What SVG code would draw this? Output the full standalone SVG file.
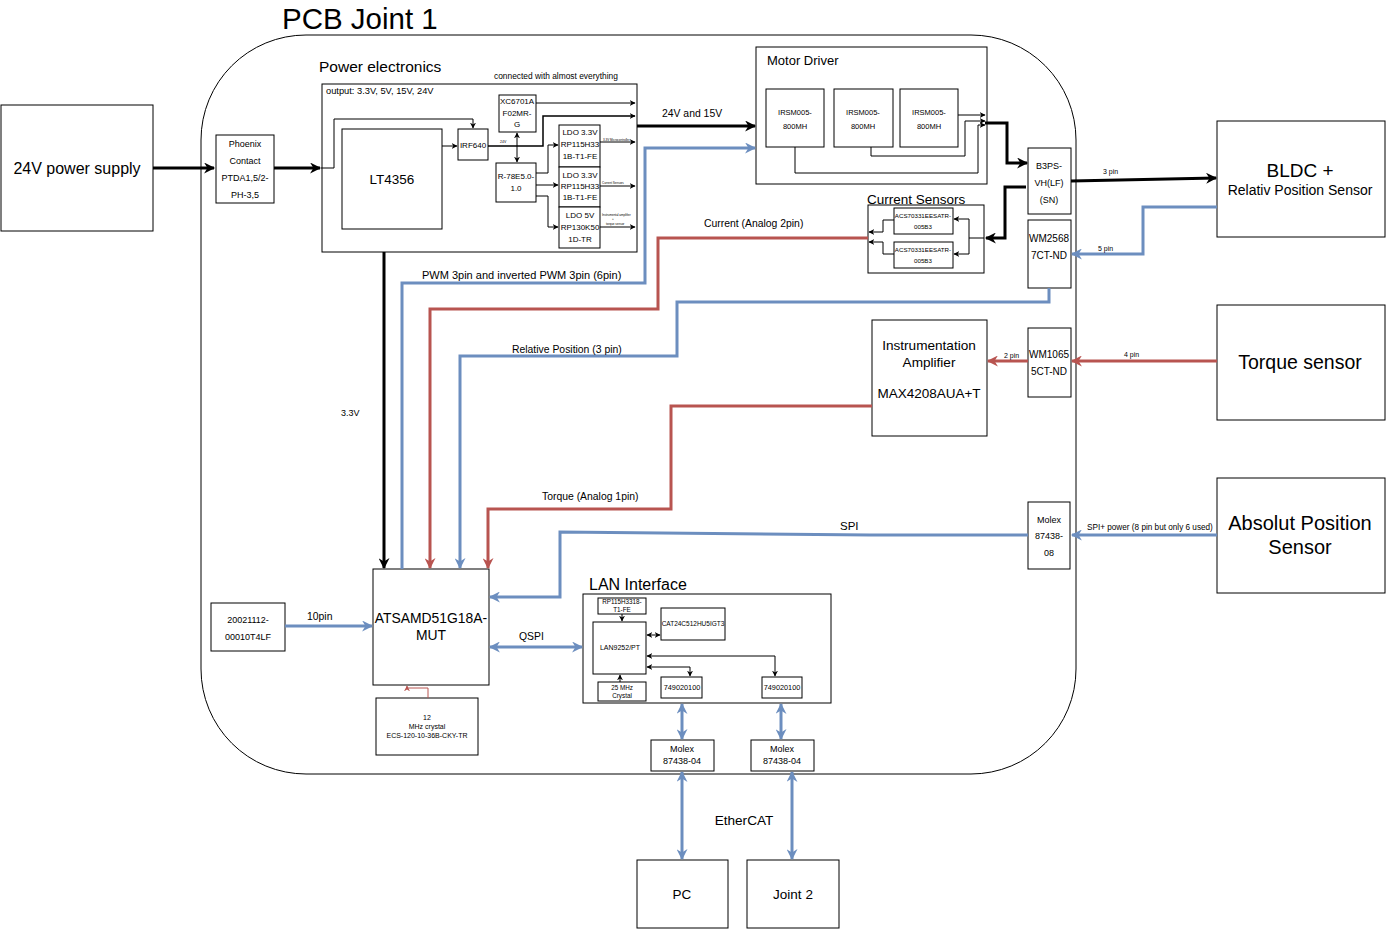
<svg xmlns="http://www.w3.org/2000/svg" width="1388" height="936" viewBox="0 0 1388 936">
<style>
text{font-family:"Liberation Sans",Arial,sans-serif;fill:#000}
.c{text-anchor:middle}
.box{fill:#fff;stroke:#000;stroke-width:1}
.thin{fill:none;stroke:#000;stroke-width:1}
.thick{fill:none;stroke:#000;stroke-width:3}
.blue{fill:none;stroke:#6c8ebf;stroke-width:3}
.red{fill:none;stroke:#b85450;stroke-width:3}
.f7{font-size:7px}
.f8{font-size:8px}
.f9{font-size:9px}
.f10{font-size:10px}
.lbl{font-size:10.4px}
</style>
<defs>
<marker id="ak" viewBox="0 0 10 10" refX="9" refY="5" markerWidth="13" markerHeight="11" markerUnits="userSpaceOnUse" orient="auto-start-reverse"><path d="M0,0 L10,5 L0,10 L3,5z" fill="#000"/></marker>
<marker id="ab" viewBox="0 0 10 10" refX="9" refY="5" markerWidth="13" markerHeight="11" markerUnits="userSpaceOnUse" orient="auto-start-reverse"><path d="M0,0 L10,5 L0,10 L3,5z" fill="#6c8ebf"/></marker>
<marker id="ar" viewBox="0 0 10 10" refX="9" refY="5" markerWidth="13" markerHeight="11" markerUnits="userSpaceOnUse" orient="auto-start-reverse"><path d="M0,0 L10,5 L0,10 L3,5z" fill="#b85450"/></marker>
<marker id="sk" viewBox="0 0 10 10" refX="9" refY="5" markerWidth="6" markerHeight="6" markerUnits="userSpaceOnUse" orient="auto-start-reverse"><path d="M0,0 L10,5 L0,10 L3,5z" fill="#000"/></marker>
<marker id="sr" viewBox="0 0 10 10" refX="9" refY="5" markerWidth="6" markerHeight="6" markerUnits="userSpaceOnUse" orient="auto-start-reverse"><path d="M0,0 L10,5 L0,10 L3,5z" fill="#b85450"/></marker>
</defs>
<rect width="1388" height="936" fill="#fff"/>

<g id="pcb">
<rect x="201" y="35" width="875" height="739" rx="105" ry="105" fill="none" stroke="#000" stroke-width="1"/>
<text x="282" y="29" style="font-size:29.5px">PCB Joint 1</text>
</g>

<g id="power-supply">
<rect class="box" x="1" y="105" width="152" height="126"/>
<text class="c" x="77" y="174" style="font-size:16px">24V power supply</text>
</g>

<g id="phoenix">
<rect class="box" x="216" y="135" width="58" height="68"/>
<text class="c f9" x="245" y="147">Phoenix</text>
<text class="c f9" x="245" y="164">Contact</text>
<text class="c f9" x="245" y="181">PTDA1,5/2-</text>
<text class="c f9" x="245" y="198">PH-3,5</text>
</g>

<g id="power-electronics">
<text x="319" y="72" style="font-size:15.5px">Power electronics</text>
<text x="494" y="79" style="font-size:8.4px">connected with almost everything</text>
<rect class="box" x="322" y="84" width="315" height="168"/>
<text x="326" y="94" style="font-size:9.3px">output: 3.3V, 5V, 15V, 24V</text>
<rect class="box" x="342" y="129" width="100" height="100"/>
<text class="c" x="392" y="184" style="font-size:13.5px">LT4356</text>
<rect class="box" x="458" y="129" width="30" height="31"/>
<text class="c f8" x="473" y="148">IRF640</text>
<rect class="box" x="499" y="95" width="37" height="37"/>
<text class="c f8" x="517" y="104">XC6701A</text>
<text class="c f8" x="517" y="116">F02MR-</text>
<text class="c f8" x="517" y="127">G</text>
<rect class="box" x="496" y="163" width="40" height="39"/>
<text class="c f8" x="516" y="179">R-78E5.0-</text>
<text class="c f8" x="516" y="191">1.0</text>
<rect class="box" x="559" y="125" width="41" height="42"/>
<text class="c f8" x="580" y="135">LDO 3.3V</text>
<text class="c f8" x="580" y="147">RP115H33</text>
<text class="c f8" x="580" y="159">1B-T1-FE</text>
<rect class="box" x="559" y="167" width="41" height="40"/>
<text class="c f8" x="580" y="178">LDO 3.3V</text>
<text class="c f8" x="580" y="189">RP115H33</text>
<text class="c f8" x="580" y="200">1B-T1-FE</text>
<rect class="box" x="559" y="207" width="41" height="41"/>
<text class="c f8" x="580" y="218">LDO 5V</text>
<text class="c f8" x="580" y="230">RP130K50</text>
<text class="c f8" x="580" y="242">1D-TR</text>
<text x="500" y="143" style="font-size:3.5px">24V</text>
<text x="603" y="141" style="font-size:3px">3.3V Microcontroller</text>
<text x="602" y="184" style="font-size:3px">Current Sensors</text>
<text x="602" y="216" style="font-size:3px">Instrumental amplifier</text>
<text x="612" y="220" style="font-size:3px">+</text>
<text x="606" y="225" style="font-size:3px">torque sensor</text>
<path class="thin" d="M321,168 H334 V119 H473 V128" marker-end="url(#sk)"/>
<path class="thin" d="M442,146 H457" marker-end="url(#sk)"/>
<path class="thin" d="M488,146 H543 V116 H635" marker-end="url(#sk)" style="stroke-width:1.5"/>
<path class="thin" d="M536,103 H635" marker-end="url(#sk)"/>
<path class="thin" d="M517,133 V162" marker-start="url(#sk)" marker-end="url(#sk)"/>
<path class="thin" d="M536,173 H548 V145 H558" marker-end="url(#sk)"/>
<path class="thin" d="M536,185 H558" marker-end="url(#sk)"/>
<path class="thin" d="M536,196 H548 V227 H558" marker-end="url(#sk)"/>
<path class="thin" d="M600,142 H635" marker-end="url(#sk)"/>
<path class="thin" d="M600,186 H635" marker-end="url(#sk)"/>
<path class="thin" d="M600,227 H635" marker-end="url(#sk)"/>
</g>

<g id="motor-driver">
<rect class="box" x="756" y="47" width="231" height="137"/>
<text x="767" y="65" style="font-size:13px">Motor Driver</text>
<rect class="box" x="766" y="89" width="58" height="58"/>
<rect class="box" x="834" y="89" width="59" height="58"/>
<rect class="box" x="900" y="89" width="58" height="58"/>
<text class="c" x="795" y="115" style="font-size:7.5px">IRSM005-</text>
<text class="c" x="795" y="129" style="font-size:7.5px">800MH</text>
<text class="c" x="863" y="115" style="font-size:7.5px">IRSM005-</text>
<text class="c" x="863" y="129" style="font-size:7.5px">800MH</text>
<text class="c" x="929" y="115" style="font-size:7.5px">IRSM005-</text>
<text class="c" x="929" y="129" style="font-size:7.5px">800MH</text>
<path class="thin" d="M958,115 H985" marker-end="url(#sk)"/>
<path class="thin" d="M871,147 V156 H965 V121 H985" marker-end="url(#sk)"/>
<path class="thin" d="M795,147 V173 H978 V125 H985" marker-end="url(#sk)"/>
</g>

<g id="current-sensors">
<rect class="box" x="868" y="205" width="116" height="68"/>
<text x="867" y="204" style="font-size:13.5px">Current Sensors</text>
<rect class="box" x="894" y="208" width="59" height="26"/>
<rect class="box" x="894" y="242" width="59" height="26"/>
<text class="c" x="923" y="218" style="font-size:6.2px">ACS70331EESATR-</text>
<text class="c" x="923" y="229" style="font-size:6.2px">005B3</text>
<text class="c" x="923" y="252" style="font-size:6.2px">ACS70331EESATR-</text>
<text class="c" x="923" y="263" style="font-size:6.2px">005B3</text>
<path class="thin" d="M984,238 H969 V219 H954" marker-end="url(#sk)"/>
<path class="thin" d="M969,238 V254 H954" marker-end="url(#sk)"/>
<path class="thin" d="M894,220 H883 V232 H869" marker-end="url(#sk)"/>
<path class="thin" d="M894,254 H883 V242 H869" marker-end="url(#sk)"/>
</g>

<g id="b3ps">
<rect class="box" x="1028" y="148" width="43" height="66"/>
<text class="c f9" x="1049" y="169">B3PS-</text>
<text class="c f9" x="1049" y="186">VH(LF)</text>
<text class="c f9" x="1049" y="203">(SN)</text>
</g>
<g id="wm25687">
<rect class="box" x="1028" y="220" width="43" height="68"/>
<text class="c f10" x="1049" y="242">WM2568</text>
<text class="c f10" x="1049" y="259">7CT-ND</text>
</g>
<g id="wm10655">
<rect class="box" x="1028" y="328" width="43" height="69"/>
<text class="c f10" x="1049" y="358">WM1065</text>
<text class="c f10" x="1049" y="375">5CT-ND</text>
</g>
<g id="molex08">
<rect class="box" x="1028" y="502" width="42" height="67"/>
<text class="c f9" x="1049" y="523">Molex</text>
<text class="c f9" x="1049" y="539">87438-</text>
<text class="c f9" x="1049" y="556">08</text>
</g>

<g id="instr-amp">
<rect class="box" x="872" y="320" width="115" height="116"/>
<text class="c" x="929" y="350" style="font-size:13.6px">Instrumentation</text>
<text class="c" x="929" y="367" style="font-size:13.6px">Amplifier</text>
<text class="c" x="929" y="398" style="font-size:13.5px">MAX4208AUA+T</text>
</g>

<g id="bldc">
<rect class="box" x="1217" y="121" width="168" height="116"/>
<text class="c" x="1300" y="177" style="font-size:19px">BLDC +</text>
<text class="c" x="1300" y="195" style="font-size:14px">Relativ Position Sensor</text>
</g>
<g id="torque-sensor">
<rect class="box" x="1217" y="305" width="168" height="115"/>
<text class="c" x="1300" y="369" style="font-size:19.5px">Torque sensor</text>
</g>
<g id="abs-sensor">
<rect class="box" x="1217" y="478" width="168" height="115"/>
<text class="c" x="1300" y="530" style="font-size:20px">Absolut Position</text>
<text class="c" x="1300" y="554" style="font-size:20px">Sensor</text>
</g>

<g id="atsamd">
<rect class="box" x="373" y="569" width="116" height="116"/>
<text class="c" x="431" y="623" style="font-size:13.9px">ATSAMD51G18A-</text>
<text class="c" x="431" y="640" style="font-size:13.9px">MUT</text>
</g>
<g id="hdr10">
<rect class="box" x="211" y="603" width="74" height="48"/>
<text class="c f9" x="248" y="623">20021112-</text>
<text class="c f9" x="248" y="640">00010T4LF</text>
</g>
<g id="crystal12">
<rect class="box" x="376" y="698" width="102" height="57"/>
<text class="c" x="427" y="720" style="font-size:7px">12</text>
<text class="c" x="427" y="729" style="font-size:7px">MHz crystal</text>
<text class="c" x="427" y="738" style="font-size:7px">ECS-120-10-36B-CKY-TR</text>
</g>

<g id="lan">
<text x="589" y="590" style="font-size:16px">LAN Interface</text>
<rect class="box" x="583" y="594" width="248" height="109"/>
<rect class="box" x="598" y="598" width="48" height="16"/>
<text class="c" x="622" y="604" style="font-size:6.3px">RP115H3318-</text>
<text class="c" x="622" y="612" style="font-size:6.3px">T1-FE</text>
<rect class="box" x="593" y="622" width="53" height="52"/>
<text class="c" x="620" y="650" style="font-size:7px">LAN9252/PT</text>
<rect class="box" x="661" y="608" width="64" height="32"/>
<text class="c" x="693" y="626" style="font-size:6.5px">CAT24C512HU5IGT3</text>
<rect class="box" x="598" y="682" width="48" height="19"/>
<text class="c" x="622" y="690" style="font-size:6.3px">25 MHz</text>
<text class="c" x="622" y="698" style="font-size:6.3px">Crystal</text>
<rect class="box" x="661" y="677" width="41" height="21"/>
<text class="c" x="682" y="690" style="font-size:7.3px">749020100</text>
<rect class="box" x="762" y="677" width="40" height="21"/>
<text class="c" x="782" y="690" style="font-size:7.3px">749020100</text>
<path class="thin" d="M622,614 V621" marker-end="url(#sk)"/>
<path class="thin" d="M620,682 V675" marker-end="url(#sk)"/>
<path class="thin" d="M647,635 H660" marker-start="url(#sk)" marker-end="url(#sk)"/>
<path class="thin" d="M647,656 H775 V676" marker-start="url(#sk)" marker-end="url(#sk)"/>
<path class="thin" d="M647,667 H690 V676" marker-start="url(#sk)" marker-end="url(#sk)"/>
</g>

<g id="molex04a">
<rect class="box" x="651" y="740" width="63" height="31"/>
<text class="c f9" x="682" y="752">Molex</text>
<text class="c f9" x="682" y="764">87438-04</text>
</g>
<g id="molex04b">
<rect class="box" x="751" y="740" width="63" height="31"/>
<text class="c f9" x="782" y="752">Molex</text>
<text class="c f9" x="782" y="764">87438-04</text>
</g>
<g id="pc">
<rect class="box" x="637" y="860" width="91" height="68"/>
<text class="c" x="682" y="899" style="font-size:13.5px">PC</text>
</g>
<g id="joint2">
<rect class="box" x="747" y="860" width="92" height="68"/>
<text class="c" x="793" y="899" style="font-size:13.5px">Joint 2</text>
</g>

<g id="connectors">
<path class="thick" d="M153,168 H214" marker-end="url(#ak)"/>
<path class="thick" d="M274,168 H320" marker-end="url(#ak)"/>
<path class="thick" d="M637,126 H755" marker-end="url(#ak)"/>
<text class="lbl" x="662" y="117">24V and 15V</text>
<path class="thick" d="M384,252 V568" marker-end="url(#ak)"/>
<text class="f9" x="341" y="416">3.3V</text>
<path class="thick" d="M985,123 H1007 V163 H1027" marker-end="url(#ak)"/>
<path class="thick" d="M1026,187 H1005 V238 H986" marker-end="url(#ak)"/>
<path class="thick" d="M1071,181 L1216,178" marker-end="url(#ak)"/>
<text x="1103" y="174" style="font-size:7px">3 pin</text>

<path class="blue" d="M402,569 V283 H645 V148 H755" marker-end="url(#ab)"/>
<text x="422" y="279" style="font-size:11px">PWM 3pin and inverted PWM 3pin (6pin)</text>
<path class="red" d="M868,238 H658 V309 H430 V568" marker-end="url(#ar)"/>
<text class="lbl" x="704" y="227">Current (Analog 2pin)</text>
<path class="blue" d="M1049,288 V302 H677 V356 H460 V568" marker-end="url(#ab)"/>
<text class="lbl" x="512" y="353">Relative Position (3 pin)</text>
<path class="red" d="M872,406 H671 V509 H488 V568" marker-end="url(#ar)"/>
<text class="lbl" x="542" y="500">Torque (Analog 1pin)</text>
<path class="blue" d="M1028,535 H870 L560,532 V597 H490" marker-end="url(#ab)"/>
<text x="840" y="530" style="font-size:11.5px">SPI</text>
<path class="blue" d="M285,626 H372" marker-end="url(#ab)"/>
<text class="lbl" x="307" y="620">10pin</text>
<path class="blue" d="M490,647 H582" marker-start="url(#ab)" marker-end="url(#ab)"/>
<text class="lbl" x="519" y="640">QSPI</text>
<path fill="none" stroke="#b85450" stroke-width="1" d="M428,698 V688 H407 V686" marker-end="url(#sr)"/>

<path class="blue" d="M1217,207 H1143 V254 H1072" marker-end="url(#ab)"/>
<text x="1098" y="251" style="font-size:7px">5 pin</text>
<path class="red" d="M1217,361 H1072" marker-end="url(#ar)"/>
<text x="1124" y="357" style="font-size:7px">4 pin</text>
<path class="red" d="M1028,361 H988" marker-end="url(#ar)"/>
<text x="1004" y="358" style="font-size:7px">2 pin</text>
<path class="blue" d="M1217,535 H1072" marker-end="url(#ab)"/>
<text x="1087" y="530" style="font-size:8.2px">SPI+ power (8 pin but only 6 used)</text>

<path class="blue" d="M682,704 V739" marker-start="url(#ab)" marker-end="url(#ab)"/>
<path class="blue" d="M781,704 V739" marker-start="url(#ab)" marker-end="url(#ab)"/>
<path class="blue" d="M682,772 V859" marker-start="url(#ab)" marker-end="url(#ab)"/>
<path class="blue" d="M792,772 V859" marker-start="url(#ab)" marker-end="url(#ab)"/>
<text class="c" x="744" y="825" style="font-size:13.6px">EtherCAT</text>
</g>
</svg>
